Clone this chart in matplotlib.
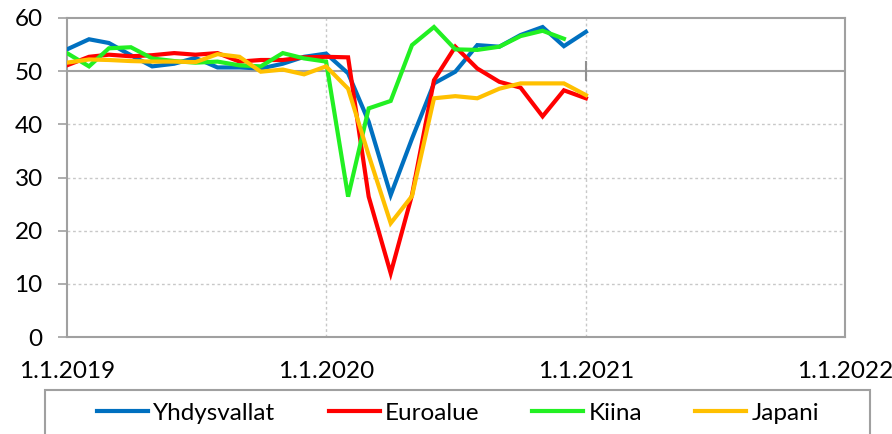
import numpy as np
import pandas as pd
import matplotlib
matplotlib.use("Agg")
import matplotlib.pyplot as plt
from matplotlib.lines import Line2D
from matplotlib.patches import Rectangle

plt.rcParams['font.family'] = ['Lato', 'DejaVu Sans']

# monthly PMI readings, 1.1.2019 .. 1.1.2021
months = pd.date_range('2019-01-01', '2021-01-01', freq='MS')

yhdysvallat = [54.1, 56.0, 55.3, 53.0, 50.9, 51.4, 52.5, 50.7, 50.7, 50.5, 51.4, 52.7, 53.3,
               49.6, 40.5, 26.7, 37.3, 47.7, 49.9, 54.9, 54.6, 56.8, 58.3, 54.7, 57.4]
euroalue = [51.1, 52.7, 53.1, 52.8, 53.0, 53.4, 53.1, 53.4, 51.8, 52.1, 52.1, 52.6, 52.7,
            52.6, 26.4, 12.0, 26.7, 48.3, 54.6, 50.5, 48.0, 46.9, 41.5, 46.4, 44.9]
kiina = [53.4, 50.9, 54.3, 54.5, 52.4, 51.9, 51.6, 51.8, 51.1, 50.9, 53.4, 52.4, 51.8,
         26.4, 43.0, 44.4, 54.9, 58.3, 54.1, 54.0, 54.6, 56.6, 57.6, 56.1]
japani = [51.6, 52.2, 52.1, 51.9, 51.8, 51.8, 51.7, 53.2, 52.7, 49.9, 50.3, 49.4, 50.9,
          46.7, 34.2, 21.4, 26.5, 44.9, 45.3, 44.9, 46.7, 47.7, 47.7, 47.7, 45.5]

names = ['Yhdysvallat', 'Euroalue', 'Kiina', 'Japani']
colors = ['#0070C0', '#FF0000', '#22F022', '#FFC000']
series = [yhdysvallat, euroalue, kiina, japani]

xticks = pd.to_datetime(['2019-01-01', '2020-01-01', '2021-01-01', '2022-01-01'])
xticklabels = ['1.1.2019', '1.1.2020', '1.1.2021', '1.1.2022']

fig = plt.figure(figsize=(8.92, 4.34), dpi=100)
ax = fig.add_axes([67/892, 1-337/434, (845-67)/892, (337-18)/434])

for vals, c in zip(series, colors):
    ax.plot(months[:len(vals)], vals, color=c, lw=3, solid_joinstyle='miter', zorder=3)

ax.set_xlim(xticks[0], xticks[-1])
ax.set_ylim(0, 60)
ax.set_yticks(range(0, 61, 10))
ax.set_xticks(xticks)
ax.set_xticklabels(xticklabels)

# grid: dashed light lines, solid line at 50
for v in [10, 20, 30, 40]:
    ax.axhline(v, color='#C8C8C8', lw=1, ls=(0, (2, 2)), zorder=1)
ax.axhline(50, color='#A0A0A0', lw=1.5, zorder=1)
for d in xticks[1:3]:
    ax.axvline(d, color='#C8C8C8', lw=1, ls=(0, (2, 2)), zorder=1)
# little separator mark on the 50 line
ax.axvline(xticks[2], ymin=0.805, ymax=0.862, color='#909090', lw=1.5, zorder=2)

for s in ax.spines.values():
    s.set_color('#A0A0A0')
    s.set_linewidth(1.5)

ax.tick_params(axis='y', length=6.5, width=1.2, color='#A0A0A0', pad=11, labelsize=17.5)
ax.tick_params(axis='x', length=0, pad=17, labelsize=17.5)

# legend frame runs past the bottom edge
fig.patches.append(Rectangle((45/892, -0.1), (870-45)/892, 0.1 + 1-390/434,
                             transform=fig.transFigure, fill=False,
                             edgecolor='#A0A0A0', lw=1.5))
handles = [Line2D([], [], color=c, lw=3) for c in colors]
leg = fig.legend(handles, names, loc='center', ncol=4,
                 bbox_to_anchor=(458/892, 1-413/434),
                 bbox_transform=fig.transFigure, fontsize=17.5, frameon=False,
                 handlelength=2.1, handletextpad=0.2, columnspacing=2.2)

fig.savefig('out.png', dpi=100)
